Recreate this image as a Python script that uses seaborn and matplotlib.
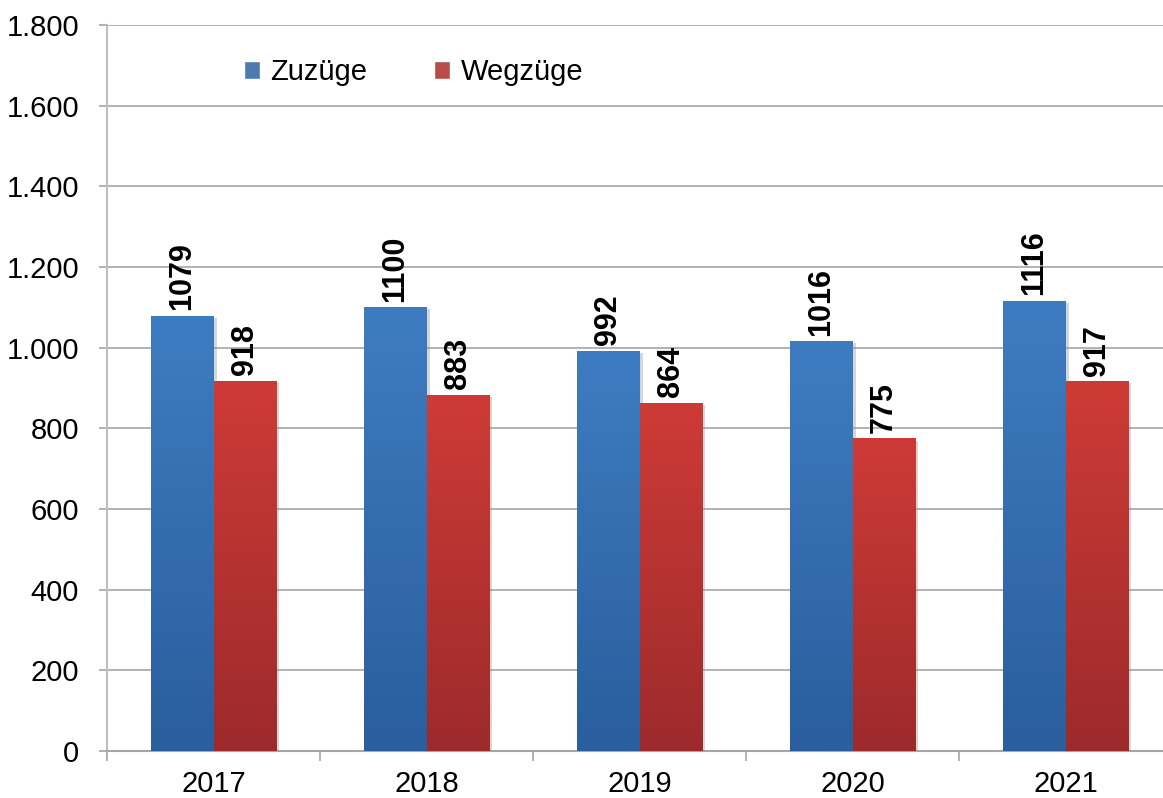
import numpy as np
import pandas as pd
import matplotlib
matplotlib.use("Agg")
import matplotlib.pyplot as plt
import matplotlib.patheffects as pe
from matplotlib.colors import LinearSegmentedColormap
from matplotlib.ticker import FuncFormatter, FixedLocator
import seaborn as sns

# Daten
jahre = ["2017", "2018", "2019", "2020", "2021"]
zuzuege = [1079, 1100, 992, 1016, 1116]
wegzuege = [918, 883, 864, 775, 917]
serien = ["Zuzüge", "Wegzüge"]

df = pd.DataFrame({
    "Jahr": jahre * 2,
    "Anzahl": zuzuege + wegzuege,
    "Art": [serien[0]] * len(jahre) + [serien[1]] * len(jahre),
})

sns.set_theme(style="white")
plt.rcParams["font.family"] = ["Liberation Sans", "DejaVu Sans"]
plt.rcParams["text.color"] = "black"
plt.rcParams["xtick.labelcolor"] = "black"
plt.rcParams["ytick.labelcolor"] = "black"

fig = plt.figure(figsize=(11.63, 7.98), dpi=100)
# Zeichenfläche etwas über den rechten Rand hinaus (wie im Original)
ax = fig.add_axes([107 / 1163, 47 / 798, 1065 / 1163, 726 / 798])

farben = {"Zuzüge": "#3D79BE", "Wegzüge": "#CB3A36"}
verlauf = {
    "Zuzüge": ("#3E7CC1", "#2A5E9D"),
    "Wegzüge": ("#CE3B37", "#9D2A2B"),
}

sns.barplot(data=df, x="Jahr", y="Anzahl", hue="Art", palette=farben,
            width=0.585, gap=0, ax=ax, zorder=3, legend=True)

ax.set_xlim(-0.5, 4.5)
ax.set_ylim(0, 1800)

# Farbverlauf + Schatten je Balken
for cont, art in zip(ax.containers, serien):
    cmap = LinearSegmentedColormap.from_list(art, [verlauf[art][1], verlauf[art][0]])
    grad = np.linspace(0, 1, 256).reshape(-1, 1)
    for bar in cont:
        x0, y0 = bar.get_x(), bar.get_y()
        w, h = bar.get_width(), bar.get_height()
        bar.set_edgecolor("none")
        bar.set_path_effects([pe.SimplePatchShadow(offset=(2.5, -1.5), shadow_rgbFace="#999999", alpha=0.4),
                              pe.Normal()])
        im = ax.imshow(grad, extent=[x0, x0 + w, y0, y0 + h], origin="lower",
                       aspect="auto", cmap=cmap, zorder=4)
        im.set_clip_path(bar)
    ax.bar_label(cont, labels=[str(int(b.get_height())) for b in cont],
                 rotation=90, padding=4, fontsize=22, fontweight="bold",
                 color="black", zorder=5)

ax.set_xlim(-0.5, 4.5)
ax.set_ylim(0, 1800)

# Achsen
ax.set_yticks(range(0, 1801, 200))
ax.yaxis.set_major_formatter(FuncFormatter(lambda v, p: f"{int(v):,}".replace(",", ".")))
ax.yaxis.grid(True, color="#A6A6A6", linewidth=1.2, zorder=0)
ax.set_axisbelow(True)
ax.tick_params(axis="y", length=6, width=1.2, color="#A6A6A6", pad=14, labelsize=21, left=True)
ax.tick_params(axis="x", which="major", length=0, pad=14, labelsize=21)
ax.xaxis.set_minor_locator(FixedLocator([k - 0.5 for k in range(6)]))
ax.tick_params(axis="x", which="minor", length=7, width=1.2, color="#A6A6A6", bottom=True)
for s in ["top", "right"]:
    ax.spines[s].set_visible(False)
ax.spines["left"].set_color("#BFBFBF")
ax.spines["left"].set_linewidth(1.5)
ax.spines["bottom"].set_color("#A6A6A6")
ax.spines["bottom"].set_linewidth(1.5)
ax.set_xlabel("")
ax.set_ylabel("")

handles, labels = ax.get_legend_handles_labels()
ax.legend(handles, labels, loc="center", bbox_to_anchor=(0.288, 0.935), ncol=2,
          frameon=False, fontsize=21, handlelength=0.55, handleheight=0.55,
          handletextpad=0.35, columnspacing=2.3)

fig.savefig("out.png", dpi=100)
